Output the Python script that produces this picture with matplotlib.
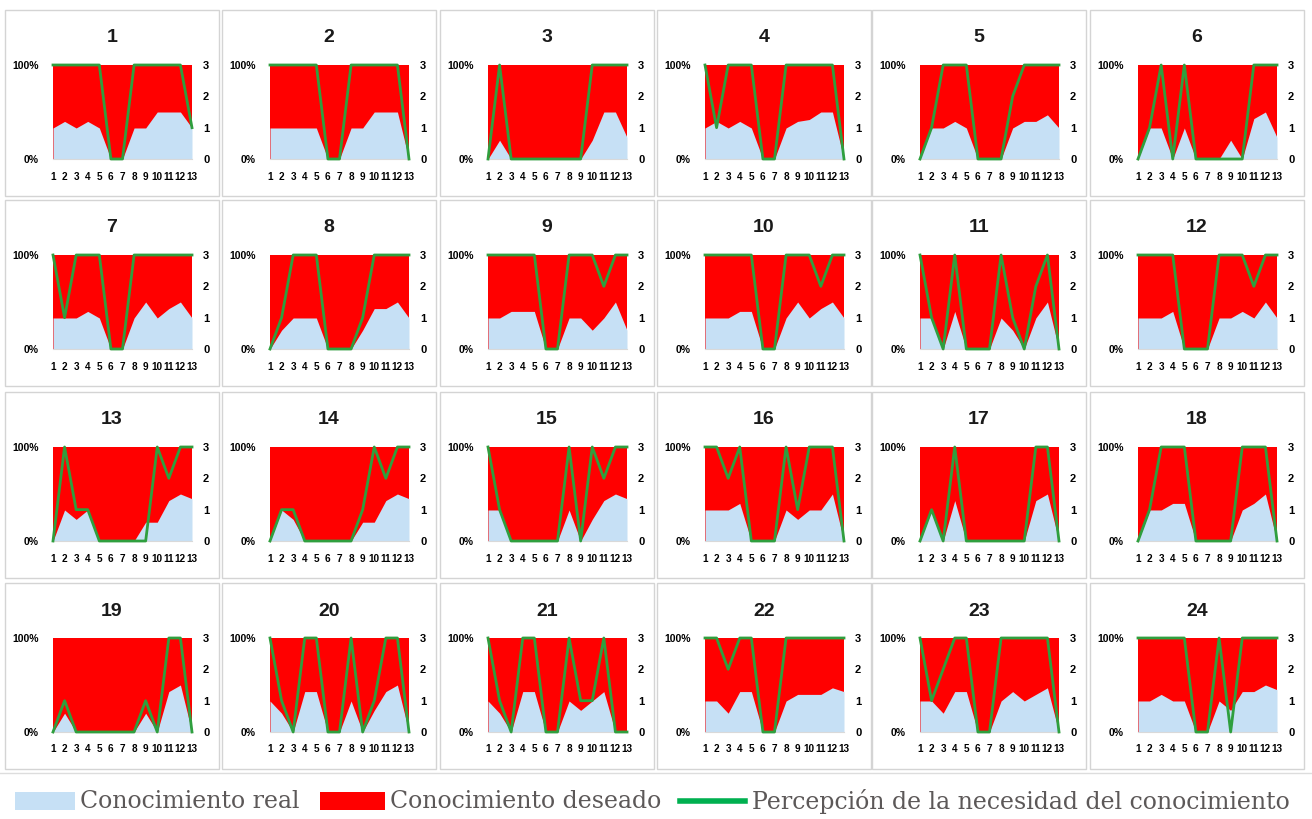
import matplotlib.pyplot as plt
from matplotlib.patches import Rectangle
from matplotlib.lines import Line2D

# x positions (13 items) shared by all 24 panels
items = [1, 2, 3, 4, 5, 6, 7, 8, 9, 10, 11, 12, 13]
item_labels = ['1', '2', '3', '4', '5', '6', '7', '8', '9', '10', '11', '12', '13']

# desired knowledge (red area, % of the left axis)
desired = [100, 100, 100, 100, 100, 100, 100, 100, 100, 100, 100, 100, 100]

# real knowledge (light blue area, %), one list per panel 1..24
real = [
    [33, 40, 33, 40, 33, 0, 0, 33, 33, 50, 50, 50, 33],
    [33, 33, 33, 33, 33, 0, 0, 33, 33, 50, 50, 50, 0],
    [0, 20, 0, 0, 0, 0, 0, 0, 0, 20, 50, 50, 23],
    [33, 40, 33, 40, 33, 0, 0, 33, 40, 42, 50, 50, 0],
    [0, 33, 33, 40, 33, 0, 0, 0, 33, 40, 40, 47, 33],
    [0, 33, 33, 0, 33, 0, 0, 0, 20, 0, 43, 50, 23],
    [33, 33, 33, 40, 33, 0, 0, 33, 50, 33, 43, 50, 33],
    [0, 20, 33, 33, 33, 0, 0, 0, 20, 43, 43, 50, 33],
    [33, 33, 40, 40, 40, 0, 0, 33, 33, 20, 33, 50, 20],
    [33, 33, 33, 40, 40, 0, 0, 33, 50, 33, 43, 50, 33],
    [33, 33, 0, 40, 0, 0, 0, 33, 20, 0, 33, 50, 0],
    [33, 33, 33, 40, 0, 0, 0, 33, 33, 40, 33, 50, 33],
    [0, 33, 23, 33, 0, 0, 0, 0, 20, 20, 43, 50, 45],
    [0, 33, 23, 0, 0, 0, 0, 0, 20, 20, 43, 50, 45],
    [33, 33, 0, 0, 0, 0, 0, 33, 0, 23, 43, 50, 45],
    [33, 33, 33, 40, 0, 0, 0, 33, 23, 33, 33, 50, 0],
    [0, 33, 0, 43, 0, 0, 0, 0, 0, 0, 43, 50, 0],
    [0, 33, 33, 40, 40, 0, 0, 0, 0, 33, 40, 50, 0],
    [0, 20, 0, 0, 0, 0, 0, 0, 20, 0, 43, 50, 0],
    [33, 20, 0, 43, 43, 0, 0, 33, 0, 23, 43, 50, 0],
    [33, 20, 0, 43, 43, 0, 0, 33, 23, 33, 43, 0, 0],
    [33, 33, 20, 43, 43, 0, 0, 33, 40, 40, 40, 47, 43],
    [33, 33, 20, 43, 43, 0, 0, 33, 43, 33, 40, 47, 0],
    [33, 33, 40, 33, 33, 0, 0, 33, 23, 43, 43, 50, 45],
]

# perceived need (green line, right axis 0-3), one list per panel
perception = [
    [3, 3, 3, 3, 3, 0, 0, 3, 3, 3, 3, 3, 1],
    [3, 3, 3, 3, 3, 0, 0, 3, 3, 3, 3, 3, 0],
    [0, 3, 0, 0, 0, 0, 0, 0, 0, 3, 3, 3, 3],
    [3, 1, 3, 3, 3, 0, 0, 3, 3, 3, 3, 3, 0],
    [0, 1, 3, 3, 3, 0, 0, 0, 2, 3, 3, 3, 3],
    [0, 1, 3, 0, 3, 0, 0, 0, 0, 0, 3, 3, 3],
    [3, 1, 3, 3, 3, 0, 0, 3, 3, 3, 3, 3, 3],
    [0, 1, 3, 3, 3, 0, 0, 0, 1, 3, 3, 3, 3],
    [3, 3, 3, 3, 3, 0, 0, 3, 3, 3, 2, 3, 3],
    [3, 3, 3, 3, 3, 0, 0, 3, 3, 3, 2, 3, 3],
    [3, 1, 0, 3, 0, 0, 0, 3, 1, 0, 2, 3, 0],
    [3, 3, 3, 3, 0, 0, 0, 3, 3, 3, 2, 3, 3],
    [0, 3, 1, 1, 0, 0, 0, 0, 0, 3, 2, 3, 3],
    [0, 1, 1, 0, 0, 0, 0, 0, 1, 3, 2, 3, 3],
    [3, 1, 0, 0, 0, 0, 0, 3, 0, 3, 2, 3, 3],
    [3, 3, 2, 3, 0, 0, 0, 3, 1, 3, 3, 3, 0],
    [0, 1, 0, 3, 0, 0, 0, 0, 0, 0, 3, 3, 0],
    [0, 1, 3, 3, 3, 0, 0, 0, 0, 3, 3, 3, 0],
    [0, 1, 0, 0, 0, 0, 0, 0, 1, 0, 3, 3, 0],
    [3, 1, 0, 3, 3, 0, 0, 3, 0, 1, 3, 3, 0],
    [3, 1, 0, 3, 3, 0, 0, 3, 1, 1, 3, 0, 0],
    [3, 3, 2, 3, 3, 0, 0, 3, 3, 3, 3, 3, 3],
    [3, 1, 2, 3, 3, 0, 0, 3, 3, 3, 3, 3, 0],
    [3, 3, 3, 3, 3, 0, 0, 3, 0, 3, 3, 3, 3],
]

legend_labels = ['Conocimiento real', 'Conocimiento deseado',
                 'Percepción de la necesidad del conocimiento']

RED = '#ff0000'
BLUE = '#c6e0f5'
GREEN = '#2f9f3e'
W, H = 1312, 819

plt.rcParams['font.family'] = ['Liberation Sans', 'DejaVu Sans']

fig = plt.figure(figsize=(W / 100, H / 100), dpi=100)


def fx(px):
    return px / W


def fy(py):
    return 1 - py / H


col_x = [5, 222, 440, 657, 872, 1090]
row_y = [10, 200, 392, 583]
box_w, box_h = 214, 186

for i in range(24):
    x0 = col_x[i % 6]
    y0 = row_y[i // 6]

    # panel frame
    fig.add_artist(Rectangle((fx(x0), fy(y0 + box_h)), box_w / W, box_h / H,
                             transform=fig.transFigure, facecolor='white',
                             edgecolor='#d4d4d4', lw=1, zorder=0))
    fig.text(fx(x0 + box_w / 2), fy(y0 + 28), str(i + 1), ha='center', va='center',
             fontsize=14, fontweight='bold', color='#1a1a1a')

    ax = fig.add_axes([fx(x0 + 48), fy(y0 + 55 + 94), 139 / W, 94 / H])
    ax.fill_between(items, 0, desired, color=RED, lw=0)
    ax.fill_between(items, 0, real[i], color=BLUE, lw=0)
    ax.set_xlim(1, 13)
    ax.set_ylim(0, 100)
    ax.set_xticks(items)
    ax.set_xticklabels(item_labels, fontsize=7.2, fontweight='bold')
    ax.set_yticks([0, 100])
    ax.set_yticklabels(['0%', '100%'], fontsize=7.5, fontweight='bold')
    ax.tick_params(axis='x', length=0, pad=9)
    ax.tick_params(axis='y', length=0, pad=10)
    for s in ['top', 'left', 'right']:
        ax.spines[s].set_visible(False)
    ax.spines['bottom'].set_color('#d9d9d9')
    ax.set_facecolor('none')

    ax2 = ax.twinx()
    ax2.plot(items, perception[i], color=GREEN, lw=2, clip_on=False)
    ax2.set_ylim(0, 3)
    ax2.set_yticks([0, 1, 2, 3])
    ax2.tick_params(axis='y', length=0, pad=8)
    for lab in ax2.get_yticklabels():
        lab.set_fontsize(8)
        lab.set_fontweight('bold')
    for s in ax2.spines.values():
        s.set_visible(False)

# separator above legend
fig.add_artist(Line2D([fx(0), fx(1312)], [fy(773), fy(773)], transform=fig.transFigure,
                      color='#dddddd', lw=1))

# legend
ly = 801
legend_font = dict(family='DejaVu Serif', fontsize=17, color='#5c5858', va='center')
fig.add_artist(Rectangle((fx(15), fy(ly + 9)), 60 / W, 18 / H, transform=fig.transFigure,
                         facecolor=BLUE, lw=0))
fig.text(fx(80), fy(ly), legend_labels[0], **legend_font)
fig.add_artist(Rectangle((fx(320), fy(ly + 9)), 65 / W, 18 / H, transform=fig.transFigure,
                         facecolor=RED, lw=0))
fig.text(fx(390), fy(ly), legend_labels[1], **legend_font)
fig.add_artist(Line2D([fx(680), fx(745)], [fy(ly), fy(ly)], transform=fig.transFigure,
                      color='#00b050', lw=4))
fig.text(fx(752), fy(ly), legend_labels[2], **legend_font)

fig.savefig('out.png', dpi=100)
